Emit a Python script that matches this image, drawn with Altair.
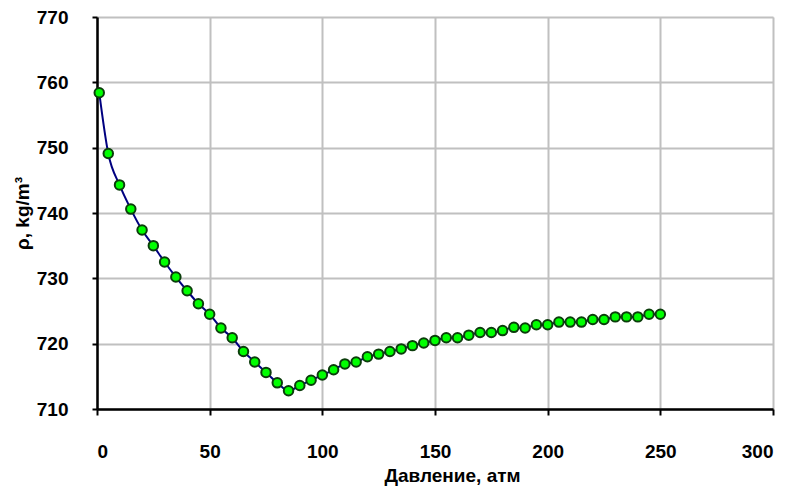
import altair as alt
import pandas as pd

pressure = [1, 5, 10, 15, 20, 25, 30, 35, 40, 45, 50, 55, 60, 65, 70, 75, 80, 85,
            90, 95, 100, 105, 110, 115, 120, 125, 130, 135, 140, 145, 150, 155, 160,
            165, 170, 175, 180, 185, 190, 195, 200, 205, 210, 215, 220, 225, 230,
            235, 240, 245, 250]
density = [758.4, 749.1, 744.3, 740.6, 737.4, 735.0, 732.5, 730.2, 728.1, 726.1,
           724.5, 722.4, 720.9, 718.8, 717.2, 715.6, 714.0, 712.8,
           713.6, 714.4, 715.2, 716.0, 716.9, 717.2, 718.0, 718.4, 718.8, 719.2,
           719.7, 720.1, 720.5, 720.9, 720.9, 721.3, 721.7, 721.7, 722.0, 722.5,
           722.4, 722.9, 722.9, 723.3, 723.3, 723.3, 723.7, 723.7, 724.1, 724.1,
           724.1, 724.5, 724.5]
x_ticks = [0, 50, 100, 150, 200, 250, 300]
y_ticks = [710, 720, 730, 740, 750, 760, 770]

df = pd.DataFrame({"p": pressure, "rho": density})

FONT = "'Liberation Sans Narrow', 'Arial Narrow', 'Liberation Sans', Arial, sans-serif"

x_enc = alt.X("p:Q", scale=alt.Scale(domain=[0, 300], nice=False),
              axis=alt.Axis(values=x_ticks, title="Давление, атм",
                            domainColor="black", domainWidth=2.5,
                            tickColor="black", tickWidth=2, tickSize=6,
                            labelPadding=27, labelFont=FONT, labelFontSize=19,
                            labelFontWeight="bold", labelColor="black",
                            titleFont=FONT, titleFontSize=19, titleFontWeight="bold",
                            titleColor="black", titlePadding=5, titleX=355,
                            gridColor="#C0C0C0", gridWidth=2))
y_enc = alt.Y("rho:Q", scale=alt.Scale(domain=[710, 770], nice=False, zero=False),
              axis=alt.Axis(values=y_ticks, title="ρ, kg/m³",
                            domainColor="black", domainWidth=2.5,
                            tickColor="black", tickWidth=2, tickSize=5,
                            labelPadding=24, labelFont=FONT, labelFontSize=19,
                            labelFontWeight="bold", labelColor="black",
                            titleFont=FONT, titleFontSize=19, titleFontWeight="bold",
                            titleColor="black", titlePadding=4,
                            gridColor="#C0C0C0", gridWidth=2))

line = alt.Chart(df).mark_line(color="#000080", strokeWidth=2,
                               interpolate="monotone").encode(x=x_enc, y=y_enc)
pts = alt.Chart(df).mark_point(shape="circle", filled=True, fill="#00FF00",
                               stroke="#0B3D0B", strokeWidth=2, size=90,
                               opacity=1).encode(x="p:Q", y="rho:Q")

chart = (line + pts).properties(
    width=676, height=392,
    autosize=alt.AutoSizeParams(type="none"),
    padding={"left": 97, "top": 17, "right": 21, "bottom": 85},
).configure_view(stroke="#808080", strokeWidth=2.5
).configure(background="white")

chart.save("out.html", embed_options={"renderer": "svg", "actions": False})
